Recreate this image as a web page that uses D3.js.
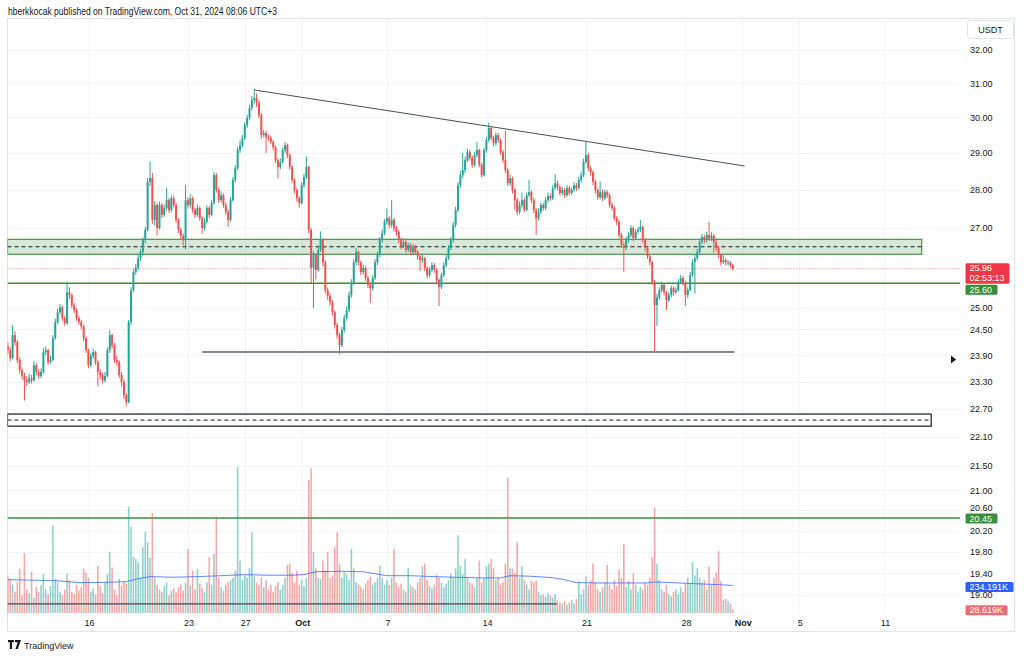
<!DOCTYPE html>
<html><head><meta charset="utf-8">
<script src="https://cdn.jsdelivr.net/npm/d3@7"></script>
<style>
body{margin:0;background:#fff;}
svg{display:block;font-family:"Liberation Sans",Arial,sans-serif;}
</style>
</head><body>
<svg id="c" width="1024" height="656"></svg>
<script>
// ---------- DATA ----------
const barStart = Date.UTC(2024, 8, 10, 7);   // first 4h bar (chart local time)
const barHours = 4;
const firstOpen = 24.10;
const closes = [
24.01,23.83,24.36,24.20,23.79,23.56,23.43,23.33,23.29,23.38,
23.33,23.67,23.52,23.43,23.52,23.97,24.01,23.74,23.79,24.29,
24.67,24.90,25.02,24.76,24.64,25.38,25.31,25.07,24.95,24.76,
24.67,24.57,24.29,24.01,23.67,23.88,23.97,23.74,23.52,23.45,
23.33,23.43,24.01,24.36,24.13,23.79,23.74,23.45,23.29,23.00,
22.85,24.67,25.43,25.88,25.98,26.22,26.38,26.68,26.94,28.21,
28.31,27.20,27.59,26.99,27.59,27.33,27.51,27.72,27.46,27.77,
27.59,27.20,26.94,26.79,26.68,27.72,27.59,27.77,27.46,27.33,
27.51,27.25,26.99,27.15,27.51,27.33,27.64,28.39,27.99,27.72,
27.85,27.59,27.41,27.20,27.72,28.26,28.58,29.08,29.22,29.42,
29.78,29.99,30.27,30.50,30.56,30.42,30.07,29.50,29.55,29.44,
29.42,29.31,29.16,28.80,28.61,28.75,29.08,29.22,28.94,28.61,
28.26,27.99,27.77,27.64,28.12,28.34,28.61,26.94,25.98,26.30,
25.93,26.43,26.68,26.12,25.43,25.29,25.14,24.90,24.60,24.36,
24.13,24.48,24.76,24.95,25.31,25.61,26.12,26.38,26.12,25.88,
25.98,25.73,25.56,25.48,25.73,26.12,26.30,26.68,26.86,27.15,
27.25,27.07,27.20,26.99,26.89,26.68,26.53,26.63,26.43,26.55,
26.38,26.50,26.38,26.27,26.17,26.22,25.98,25.80,25.93,26.05,
25.93,25.68,25.51,25.80,26.05,26.22,26.48,26.68,27.07,27.46,
28.12,28.39,28.53,28.80,29.02,28.86,28.67,28.94,29.08,28.67,
28.39,29.08,29.36,29.70,29.42,29.27,29.50,29.36,29.02,28.80,
28.53,28.17,28.31,27.99,27.72,27.41,27.59,27.72,27.46,27.85,
27.93,27.72,27.46,27.25,27.41,27.59,27.51,27.72,27.83,27.77,
28.04,28.17,28.07,27.91,27.99,27.85,28.04,27.91,27.99,28.12,
28.04,28.26,28.39,28.75,28.94,28.58,28.47,28.21,27.99,27.80,
27.93,27.77,27.93,27.85,27.59,27.51,27.25,27.15,26.81,26.55,
26.48,26.68,26.81,26.99,26.73,26.89,26.94,27.02,26.68,26.48,
26.27,26.12,25.63,25.07,25.26,25.43,25.56,25.38,25.19,25.31,
25.48,25.38,25.43,25.63,25.73,25.61,25.31,25.43,25.80,26.12,
26.22,26.38,26.63,26.76,26.68,26.81,26.73,26.79,26.63,26.48,
26.30,26.12,26.17,26.12,26.12,26.05,25.96];
const highs = [
24.20,24.08,24.60,24.45,24.25,23.85,23.62,23.50,23.42,23.48,
23.45,23.76,23.72,23.58,23.60,24.06,24.10,24.05,23.88,24.36,
24.75,24.98,25.10,25.06,24.82,25.64,25.50,25.35,25.12,25.00,
24.82,24.72,24.60,24.33,24.05,23.95,24.05,24.00,23.78,23.58,
23.50,23.52,24.08,24.48,24.40,24.18,23.88,23.78,23.52,23.35,
23.05,24.72,25.50,25.95,26.08,26.30,26.45,26.75,27.02,28.32,
28.77,28.45,27.70,27.65,27.68,27.65,27.60,28.05,27.78,27.85,
27.84,27.65,27.25,27.00,26.85,28.12,27.80,27.88,27.82,27.52,
27.60,27.56,27.30,27.25,27.58,27.56,27.72,28.48,28.45,28.05,
27.95,27.90,27.65,27.48,27.80,28.34,28.66,29.16,29.35,29.50,
29.86,30.08,30.36,30.62,30.82,30.70,30.50,30.12,29.65,29.62,
29.52,29.48,29.36,29.20,28.85,28.85,29.15,29.30,29.26,28.98,
28.66,28.30,28.04,27.82,28.20,28.42,28.90,28.65,27.00,26.40,
26.35,26.55,26.90,26.72,26.18,25.50,25.36,25.20,24.95,24.66,
24.42,24.55,24.84,25.04,25.40,25.70,26.20,26.48,26.42,26.16,
26.06,26.02,25.78,25.60,25.80,26.20,26.38,26.76,26.95,27.22,
27.50,27.30,27.72,27.25,27.05,26.94,26.75,26.72,26.68,26.62,
26.60,26.58,26.55,26.42,26.32,26.30,26.26,26.02,26.00,26.12,
26.10,25.98,25.72,25.86,26.12,26.30,26.55,26.76,27.15,27.54,
28.20,28.50,29.00,28.90,29.12,29.08,28.92,29.02,29.30,29.12,
28.72,29.15,29.45,29.85,29.75,29.48,29.58,29.56,29.40,29.08,
29.62,28.58,28.40,28.35,28.04,27.78,27.68,27.92,27.78,27.92,
28.26,27.98,27.78,27.52,27.50,27.66,27.64,27.80,27.92,27.90,
28.12,28.42,28.24,28.12,28.08,28.04,28.12,28.10,28.06,28.20,
28.18,28.34,28.48,28.84,29.30,29.00,28.64,28.52,28.26,28.04,
28.22,28.00,28.00,27.98,27.90,27.66,27.56,27.30,27.20,26.86,
26.62,26.76,26.88,27.06,27.04,26.96,27.02,27.20,27.06,26.72,
26.52,26.32,26.16,25.68,25.34,25.50,25.64,25.60,25.42,25.38,
25.55,25.52,25.50,25.70,25.80,25.78,25.66,25.50,25.88,26.20,
26.30,26.46,26.72,26.84,26.82,26.90,27.15,26.88,26.84,26.68,
26.52,26.34,26.30,26.22,26.18,26.15,26.08];
const lows = [
23.92,23.76,23.80,24.12,23.72,23.48,23.35,22.88,23.20,23.25,
23.26,23.30,23.45,23.36,23.38,23.48,23.90,23.68,23.70,23.76,
24.25,24.62,24.85,24.70,24.58,24.60,25.22,25.00,24.88,24.70,
24.60,24.50,24.22,23.95,23.60,23.62,23.82,23.68,23.20,23.36,
23.26,23.28,23.40,23.95,24.05,23.72,23.66,23.38,23.20,22.92,
22.76,22.82,24.60,25.38,25.80,25.92,26.15,26.30,26.60,26.90,
28.10,27.10,27.05,26.80,26.95,27.25,27.28,27.45,27.38,27.40,
27.52,27.12,26.86,26.70,26.55,26.45,27.50,27.52,27.38,27.25,
27.28,27.18,26.84,26.92,27.10,27.25,27.30,27.60,27.92,27.65,
27.66,27.52,27.33,27.02,27.15,27.68,28.20,28.52,29.00,29.15,
29.36,29.70,29.92,30.20,30.40,30.30,29.98,29.40,29.44,29.00,
29.34,29.24,29.08,28.72,28.30,28.55,28.70,29.00,28.86,28.54,
28.18,27.90,27.68,27.52,27.60,28.05,28.28,26.85,25.60,25.00,
25.70,25.88,26.38,26.02,25.35,25.20,25.06,24.82,24.52,24.28,
23.92,24.08,24.42,24.70,24.90,25.25,25.56,26.05,26.04,25.80,
25.82,25.66,25.48,25.12,25.42,25.68,26.05,26.25,26.60,26.80,
27.08,26.98,27.00,26.90,26.80,26.60,26.45,26.48,26.36,26.38,
26.30,26.32,26.30,26.18,25.90,26.10,25.90,25.72,25.75,25.88,
25.86,25.60,25.05,25.46,25.75,26.00,26.18,26.42,26.62,27.00,
27.40,28.05,28.30,28.45,28.74,28.78,28.58,28.62,28.88,28.60,
28.32,28.35,29.00,29.30,29.35,29.18,29.20,29.28,28.95,28.72,
28.45,28.10,28.10,27.90,27.46,27.33,27.35,27.52,27.40,27.42,
27.80,27.65,27.38,26.81,27.18,27.35,27.44,27.46,27.66,27.70,
27.72,28.00,27.98,27.84,27.85,27.78,27.80,27.84,27.86,27.94,
27.96,28.00,28.20,28.34,28.70,28.50,28.38,28.12,27.90,27.72,
27.74,27.70,27.72,27.78,27.52,27.44,27.18,27.06,26.74,26.48,
25.88,26.42,26.62,26.76,26.66,26.68,26.84,26.88,26.62,26.40,
26.20,26.04,25.56,23.97,24.58,25.20,25.38,25.30,24.95,25.14,
25.26,25.30,25.34,25.40,25.58,25.54,25.06,25.24,25.40,25.76,
25.35,26.16,26.32,26.58,26.60,26.62,26.66,26.66,26.36,26.40,
26.22,26.04,26.08,26.05,26.04,25.98,25.92];
// volume, thousands
const volumes = [
310,290,240,180,260,376,150,510,200,170,
350,130,220,180,240,330,200,160,230,745,
290,260,180,150,200,335,280,180,160,240,
190,220,376,340,300,180,210,160,400,230,
170,260,330,520,385,200,150,290,230,270,
250,905,735,480,460,430,300,560,690,600,
470,850,300,240,200,180,230,260,150,190,
210,180,220,240,190,260,545,230,360,200,
376,250,210,180,260,475,240,500,815,300,
220,190,240,260,280,300,360,1240,445,280,
320,300,385,685,310,260,240,300,220,280,
200,240,180,230,260,200,240,300,410,420,
340,260,360,240,280,230,300,1130,1230,520,
380,300,290,445,360,520,300,320,560,685,
420,300,350,330,280,545,376,260,240,220,
200,250,280,310,240,260,300,400,300,240,
280,240,300,545,260,220,250,200,180,385,
240,220,200,260,300,395,420,280,230,210,
240,326,300,260,220,250,280,335,300,380,
660,400,330,460,300,260,240,220,300,445,
260,300,395,420,460,380,280,300,240,260,
420,1150,380,376,340,600,300,395,280,240,
200,275,260,275,180,150,160,140,170,150,
130,160,110,90,80,100,70,90,110,80,
120,270,160,200,310,240,280,420,260,200,
180,220,260,410,240,200,280,230,370,300,
585,220,275,200,335,240,180,220,200,260,
240,300,475,895,420,280,200,180,240,160,
140,180,200,160,220,180,250,300,250,435,
320,380,300,260,280,200,395,240,300,340,
525,270,110,120,100,80,28.619];
// volume moving average (bar index, thousands)
const maIndex = [0,10,20,30,40,50,55,60,70,80,90,100,110,120,125,130,140,150,155,160,170,180,190,200,208,212,220,230,235,240,250,260,270,273,280,290,300,306];
const maValue = [283,279,275,258,260,266,292,309,304,309,317,326,321,321,326,351,355,351,334,317,317,309,303,298,298,317,313,300,283,258,255,255,255,264,258,249,241,234.191];

const priceTicks = [32,31,30,29,28,27,25,24.5,23.9,23.3,22.7,22.1,21.5,21,20.6,20.2,19.8,19.4,19];
const dateTicks = [[2024,8,16,"16"],[2024,8,23,"23"],[2024,8,27,"27"],[2024,9,1,"Oct"],[2024,9,7,"7"],[2024,9,14,"14"],[2024,9,21,"21"],[2024,9,28,"28"],[2024,10,1,"Nov"],[2024,10,5,"5"],[2024,10,11,"11"]];

// drawings (price levels and anchor times)
const zoneTop = 26.70, zoneBottom = 26.32, zoneMid = 26.51;
const zoneEnd = Date.UTC(2024,10,13,14);
const supportLevel = 25.60;
const lastPrice = 25.96;
const countdown = "02:53:13";
const bottomLine = 23.97, bottomLineFrom = Date.UTC(2024,8,23,23), bottomLineTo = Date.UTC(2024,9,31,10);
const trendFrom = [Date.UTC(2024,8,27,15), 30.80], trendTo = [Date.UTC(2024,10,1,3), 28.64];
const boxTop = 22.59, boxBottom = 22.33, boxMid = 22.46, boxEnd = Date.UTC(2024,10,14,6);
const lowGreen = 20.45;
const volLineLevel = 18.84, volLineTo = Date.UTC(2024,9,18,22);
const markerPrice = 23.80;
const header = "hberkkocak published on TradingView.com, Oct 31, 2024 08:06 UTC+3";

// ---------- CHART ----------
const svg = d3.select("#c");
const L = 7.5, R = 960, T = 19, B = 614;
const FS = 9;
const x = d3.scaleUtc().domain([Date.UTC(2024,8,16), Date.UTC(2024,10,11)]).range([89, 885]);
const y = d3.scaleLog().domain([19, 32]).range([595, 50]);
const yv = d3.scaleLinear().domain([0, 1300]).range([613, 460]);
const tOf = i => new Date(barStart + i * barHours * 3600e3);

const bars = closes.map((c, i) => ({
  t: tOf(i), o: i === 0 ? firstOpen : closes[i-1], c, h: highs[i], l: lows[i], v: volumes[i]
}));
const UP = "#26a69a", DN = "#ef5350";

svg.append("defs").append("clipPath").attr("id","plot")
  .append("rect").attr("x",L).attr("y",T).attr("width",R-L).attr("height",B-T);

// frame
svg.append("rect").attr("x",7.5).attr("y",18.5).attr("width",1007).attr("height",613)
  .attr("fill","none").attr("stroke","#e0e3eb");

// header
svg.append("text").attr("x",8).attr("y",14.5).attr("font-size",10).attr("fill","#131722")
  .attr("textLength",269).attr("lengthAdjust","spacingAndGlyphs").text(header);

const plot = svg.append("g").attr("clip-path","url(#plot)");

// grid
plot.append("g").selectAll("line").data(dateTicks).join("line")
  .attr("x1",d=>x(Date.UTC(d[0],d[1],d[2]))).attr("x2",d=>x(Date.UTC(d[0],d[1],d[2])))
  .attr("y1",T).attr("y2",B).attr("stroke","#f0f3fa");
plot.append("g").selectAll("line").data(priceTicks).join("line")
  .attr("x1",L).attr("x2",R).attr("y1",d=>Math.round(y(d))+0.5).attr("y2",d=>Math.round(y(d))+0.5)
  .attr("stroke","#f0f3fa");

// zone
plot.append("rect").attr("x",L).attr("y",y(zoneTop)).attr("width",x(zoneEnd)-L)
  .attr("height",y(zoneBottom)-y(zoneTop)).attr("fill","rgba(56,142,60,0.2)")
  .attr("stroke","#4c8f4c").attr("stroke-width",1.2);
plot.append("line").attr("x1",L).attr("x2",x(zoneEnd)).attr("y1",y(zoneMid)).attr("y2",y(zoneMid))
  .attr("stroke","#131722").attr("stroke-dasharray","4,3");

// lower box
plot.append("rect").attr("x",L).attr("y",y(boxTop)).attr("width",x(boxEnd)-L)
  .attr("height",y(boxBottom)-y(boxTop)).attr("fill","none").attr("stroke","#131722").attr("stroke-width",1.2);
plot.append("line").attr("x1",L).attr("x2",x(boxEnd)).attr("y1",y(boxMid)).attr("y2",y(boxMid))
  .attr("stroke","#131722").attr("stroke-dasharray","4,3");

// last price dotted
plot.append("line").attr("x1",L).attr("x2",R).attr("y1",y(lastPrice)).attr("y2",y(lastPrice))
  .attr("stroke","#f23645").attr("stroke-dasharray","1,2").attr("opacity",0.7);

// green levels
[supportLevel, lowGreen].forEach(p => plot.append("line").attr("x1",L).attr("x2",R)
  .attr("y1",y(p)).attr("y2",y(p)).attr("stroke","#388e3c").attr("stroke-width",1.5));

// bottom horizontal line
plot.append("line").attr("x1",x(bottomLineFrom)).attr("x2",x(bottomLineTo))
  .attr("y1",y(bottomLine)).attr("y2",y(bottomLine)).attr("stroke","#5d606b").attr("stroke-width",1.5);

// trend line
plot.append("line").attr("x1",x(trendFrom[0])).attr("y1",y(trendFrom[1]))
  .attr("x2",x(trendTo[0])).attr("y2",y(trendTo[1])).attr("stroke","#4a4d57").attr("stroke-width",1);

// volume
plot.append("g").selectAll("rect").data(bars).join("rect")
  .attr("x",d=>x(d.t)-0.8).attr("width",1.6)
  .attr("y",d=>yv(d.v)).attr("height",d=>yv(0)-yv(d.v))
  .attr("fill",d=>d.c>=d.o?"rgba(38,166,154,0.5)":"rgba(239,83,80,0.5)");

// volume level line
plot.append("line").attr("x1",L).attr("x2",x(volLineTo)).attr("y1",y(volLineLevel)).attr("y2",y(volLineLevel))
  .attr("stroke","#6a6d78").attr("stroke-width",1.6);

// volume MA
plot.append("path").datum(maIndex.map((k,j)=>[tOf(k), maValue[j]]))
  .attr("d", d3.line().x(d=>x(d[0])).y(d=>yv(d[1])))
  .attr("fill","none").attr("stroke","#2962ff").attr("stroke-width",1).attr("opacity",0.75);

// candles
const cg = plot.append("g");
cg.selectAll("line").data(bars).join("line")
  .attr("x1",d=>x(d.t)).attr("x2",d=>x(d.t)).attr("y1",d=>y(d.h)).attr("y2",d=>y(d.l))
  .attr("stroke",d=>d.c>=d.o?UP:DN).attr("stroke-width",1);
cg.selectAll("rect").data(bars).join("rect")
  .attr("x",d=>x(d.t)-1).attr("width",2)
  .attr("y",d=>y(Math.max(d.o,d.c)))
  .attr("height",d=>Math.max(1, y(Math.min(d.o,d.c))-y(Math.max(d.o,d.c))))
  .attr("fill",d=>d.c>=d.o?UP:DN);

// price axis
const ax = svg.append("g").attr("transform","translate(966,0)")
  .call(d3.axisRight(y).tickValues(priceTicks).tickSize(0).tickPadding(4).tickFormat(d3.format(".2f")));
ax.select(".domain").remove();
ax.selectAll("text").attr("font-size",FS).attr("fill","#131722").attr("font-family","'Liberation Sans',Arial,sans-serif");
ax.selectAll(".tick").filter(d=>d===20.6).select("text").attr("dy","-0.05em");

// time axis
const tx = svg.append("g").attr("transform","translate(0,619)")
  .call(d3.axisBottom(x).tickValues(dateTicks.map(d=>new Date(Date.UTC(d[0],d[1],d[2]))))
    .tickSize(0).tickPadding(1)
    .tickFormat((d,i)=>dateTicks[i][3]));
tx.select(".domain").remove();
tx.selectAll("text").attr("font-size",FS).attr("fill","#131722").attr("font-family","'Liberation Sans',Arial,sans-serif")
  .attr("font-weight",(d,i)=>isNaN(+dateTicks[i][3])?"bold":"normal");

// USDT box
svg.append("rect").attr("x",967.5).attr("y",20.5).attr("width",46).attr("height",18).attr("rx",3)
  .attr("fill","#fff").attr("stroke","#e0e3eb");
svg.append("text").attr("x",990.5).attr("y",32.5).attr("text-anchor","middle").attr("font-size",FS)
  .attr("fill","#131722").text("USDT");

// labels on the axis
function tag(yTop, h, w, fill, lines){
  svg.append("rect").attr("x",965.5).attr("y",yTop).attr("width",w).attr("height",h).attr("rx",1.5).attr("fill",fill);
  lines.forEach((s,k)=>svg.append("text").attr("x",969.5).attr("y",yTop+8.3+k*10)
    .attr("font-size",FS).attr("fill","#fff").text(s));
}
tag(y(lastPrice)-5.5, 20.5, 44, "#f23645", [lastPrice.toFixed(2), countdown]);
tag(y(lastPrice)+16, 10, 32, "#388e3c", [supportLevel.toFixed(2)]);
tag(y(lowGreen)-4.5, 10, 32, "#388e3c", [lowGreen.toFixed(2)]);
tag(yv(maValue[maValue.length-1])-3.5, 10, 48, "#2962ff", [maValue[maValue.length-1].toFixed(3)+"K"]);
tag(yv(volumes[volumes.length-1])-4.5, 10, 42, "#f06a6f", [volumes[volumes.length-1].toFixed(3)+"K"]);

// small marker triangle
const my = y(markerPrice);
svg.append("path").attr("d",`M951,${my-4}L956,${my}L951,${my+4}Z`).attr("fill","#131722");

// TradingView footer
svg.append("path").attr("d","M8,640h6v2.2h-2v6.8h-2.2v-6.8h-1.8z M15,640h6l-3.2,9h-2.3l2.2-6.8h-2.7z")
  .attr("fill","#131722");
svg.append("text").attr("x",24).attr("y",648.5).attr("font-size",FS).attr("fill","#131722")
  .text("TradingView");
</script>
</body></html>
